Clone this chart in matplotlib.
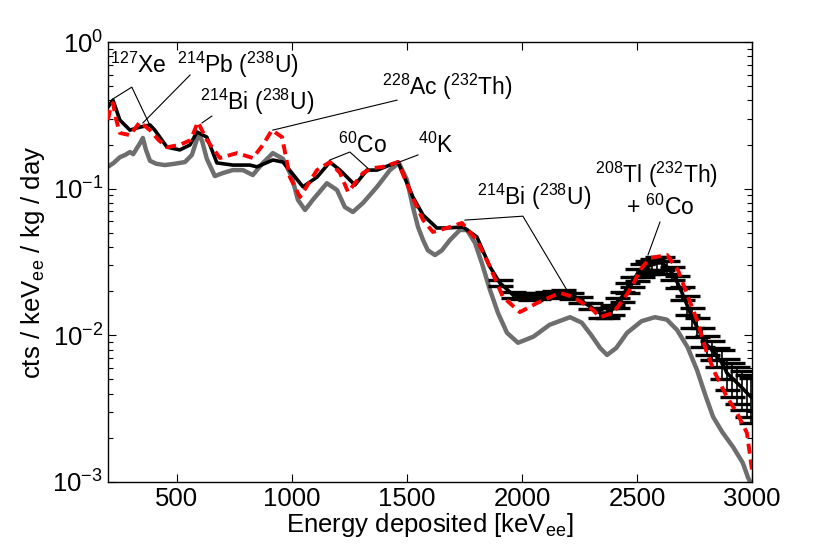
import numpy as np
import matplotlib
matplotlib.use('Agg')
import matplotlib.pyplot as plt

# measured spectrum (black, with error bars)
data_keV = [200, 222, 252, 296, 339, 383, 404, 457, 513, 557, 587, 630, 674, 743,
            817, 848, 917, 961, 1000, 1048, 1109, 1165, 1209, 1274, 1326, 1370,
            1426, 1461, 1526, 1570, 1630, 1674, 1744, 1804, 1861, 1904, 1961,
            2000, 2035, 2070, 2109, 2140, 2178, 2215, 2252, 2295, 2339, 2370,
            2391, 2413, 2435, 2457, 2478, 2500, 2522, 2543, 2565, 2587, 2609,
            2630, 2652, 2674, 2696, 2717, 2739, 2761, 2783, 2804, 2826, 2848,
            2870, 2891, 2913, 2935, 2957, 2978, 2996]
data_rate = [0.360, 0.402, 0.294, 0.251, 0.263, 0.272, 0.251, 0.192, 0.184, 0.199,
             0.244, 0.225, 0.150, 0.145, 0.145, 0.141, 0.157, 0.152, 0.128, 0.103,
             0.120, 0.152, 0.134, 0.106, 0.134, 0.134, 0.145, 0.152, 0.0878, 0.0662,
             0.0540, 0.0540, 0.0548, 0.0469, 0.0293, 0.0228, 0.0189, 0.0185, 0.0183,
             0.0186, 0.0189, 0.0192, 0.0195, 0.0185, 0.0174, 0.0158, 0.0142, 0.0142,
             0.0149, 0.0167, 0.0183, 0.0211, 0.0232, 0.0259, 0.0279, 0.0293, 0.0303,
             0.0312, 0.0312, 0.0293, 0.0267, 0.0232, 0.0195, 0.0162, 0.0133, 0.0114,
             0.00977, 0.00862, 0.00800, 0.00713, 0.00650, 0.00554, 0.00513, 0.00474,
             0.00439, 0.00405, 0.00380]
# relative size of the error bars
data_relerr = [0.02] * 33 + [0.05] * 13 + [0.08] * 7 + [0.10] * 10 + \
              [0.15] * 7 + [0.22, 0.24, 0.26, 0.28, 0.30, 0.32, 0.34]

# simulated background model (red dashed)
model_keV = [200, 212, 222, 235, 252, 296, 339, 383, 420, 457, 513, 560, 591, 630,
             687, 761, 830, 874, 913, 957, 991, 1035, 1109, 1165, 1209, 1244, 1309,
             1348, 1396, 1461, 1526, 1570, 1613, 1674, 1739, 1804, 1861, 1917, 1991,
             2065, 2165, 2222, 2309, 2339, 2396, 2439, 2478, 2513, 2557, 2631, 2678,
             2722, 2761, 2804, 2839, 2891, 2935, 2978, 3000]
model_rate = [0.294, 0.36, 0.384, 0.30, 0.240, 0.232, 0.285, 0.251, 0.215, 0.192,
              0.199, 0.215, 0.285, 0.215, 0.162, 0.175, 0.162, 0.199, 0.251, 0.225,
              0.120, 0.0878, 0.134, 0.152, 0.128, 0.095, 0.128, 0.138, 0.141, 0.152,
              0.0864, 0.0612, 0.0507, 0.0540, 0.0584, 0.0447, 0.0293, 0.0183, 0.0144,
              0.0166, 0.0195, 0.0183, 0.0149, 0.0133, 0.0142, 0.0174, 0.0214, 0.0279,
              0.0337, 0.0353, 0.0279, 0.0183, 0.0127, 0.00759, 0.00554, 0.00380,
              0.00296, 0.00216, 0.00121]

# second model component (grey)
grey_keV = [200, 225, 252, 275, 296, 310, 326, 340, 352, 365, 383, 410, 448, 490,
            535, 565, 582, 595, 610, 630, 665, 700, 743, 787, 830, 874, 917, 961, 1000,
            1026, 1057, 1091, 1152, 1196, 1230, 1265, 1309, 1370, 1426, 1465, 1500,
            1526, 1548, 1570, 1591, 1622, 1652, 1687, 1730, 1761, 1796, 1826, 1861,
            1896, 1935, 1983, 2050, 2120, 2209, 2260, 2300, 2340, 2370, 2410, 2457,
            2520, 2578, 2630, 2674, 2720, 2761, 2800, 2831, 2870, 2918, 2960, 2983, 3000]
grey_rate = [0.141, 0.150, 0.164, 0.170, 0.178, 0.172, 0.189, 0.205, 0.222, 0.185,
             0.155, 0.148, 0.145, 0.148, 0.152, 0.170, 0.205, 0.238, 0.210, 0.160, 0.122,
             0.128, 0.134, 0.134, 0.124, 0.150, 0.175, 0.160, 0.120, 0.084, 0.0716,
             0.084, 0.109, 0.098, 0.075, 0.0694, 0.080, 0.103, 0.134, 0.150, 0.115,
             0.075, 0.055, 0.0447, 0.038, 0.0353, 0.038, 0.0447, 0.0523, 0.0523,
             0.0427, 0.031, 0.0204, 0.0142, 0.0104, 0.0089, 0.0098, 0.0118, 0.0133,
             0.0122, 0.0101, 0.0082, 0.00735, 0.0082, 0.0104, 0.0125, 0.0133, 0.0128,
             0.0109, 0.0083, 0.0058, 0.0038, 0.00278, 0.0022, 0.00173, 0.00135,
             0.00107, 0.00095]

plt.rcParams['font.family'] = ['Liberation Sans', 'DejaVu Sans']
plt.rcParams['mathtext.fontset'] = 'custom'
plt.rcParams['mathtext.rm'] = 'Liberation Sans'
plt.rcParams['mathtext.it'] = 'Liberation Sans:italic'
plt.rcParams['mathtext.bf'] = 'Liberation Sans:bold'

fig = plt.figure(figsize=(8.3, 5.54), dpi=100)
ax = fig.add_axes([0.130, 0.130, 0.776, 0.794])

ax.plot(grey_keV, grey_rate, color='#6e6e6e', lw=3.2, zorder=2,
        solid_joinstyle='round')
x = np.array(data_keV)
y = np.array(data_rate)
yerr = y * np.array(data_relerr)
hi = x >= 1900  # error bars only visible where they are larger than the line
ax.errorbar(x[hi], y[hi], yerr=yerr[hi], fmt='none', ecolor='k', elinewidth=1.2,
            capsize=9, capthick=2.4, zorder=3)
ax.plot(x, y, color='k', lw=2.6, zorder=3)
ax.plot(model_keV, model_rate, color='#ff0000', lw=2.8, dashes=(2.6, 1.5), zorder=4)

ax.set_yscale('log')
ax.set_xlim(200, 3000)
ax.set_ylim(1e-3, 1)
ax.set_xticks([500, 1000, 1500, 2000, 2500, 3000])
ax.tick_params(which='both', direction='in', top=True, right=True, labelsize=18.5)
ax.tick_params(which='major', length=6, width=0.8)
ax.tick_params(which='minor', length=3.5, width=0.8)
for s in ax.spines.values():
    s.set_linewidth(1.0)

ax.set_xlabel(r'Energy deposited [keV$_{\mathrm{ee}}$]', fontsize=18.5, labelpad=0)
ax.set_ylabel(r'cts / keV$_{\mathrm{ee}}$ / kg / day', fontsize=18.5, labelpad=4)

# peak labels
fs = 16.5
lk = dict(color='k', lw=0.8, zorder=5)
ax.text(207, 0.615, r'$^{127}$Xe', fontsize=fs)
ax.plot([222, 304, 383], [0.41, 0.493, 0.27], **lk)
ax.text(500, 0.615, r'$^{214}$Pb ($^{238}$U)', fontsize=fs)
ax.plot([557, 352], [0.596, 0.281], **lk)
ax.text(600, 0.344, r'$^{214}$Bi ($^{238}$U)', fontsize=fs)
ax.plot([652, 609], [0.313, 0.281], **lk)
ax.text(1392, 0.435, r'$^{228}$Ac ($^{232}$Th)', fontsize=fs)
ax.plot([1457, 917], [0.402, 0.251], **lk)
ax.text(1200, 0.175, r'$^{60}$Co', fontsize=fs)
ax.plot([1165, 1252, 1330], [0.157, 0.178, 0.138], **lk)
ax.text(1548, 0.175, r'$^{40}$K', fontsize=fs)
ax.plot([1548, 1457], [0.170, 0.150], **lk)
ax.text(1804, 0.0774, r'$^{214}$Bi ($^{238}$U)', fontsize=fs)
ax.plot([1752, 2004, 2200], [0.0611, 0.065, 0.0198], **lk)
ax.text(2583, 0.109, r'$^{208}$Tl ($^{232}$Th)', fontsize=fs, ha='center')
ax.text(2600, 0.0662, r'+ $^{60}$Co', fontsize=fs, ha='center')
ax.plot([2600, 2548], [0.0592, 0.0354], **lk)

fig.savefig('out.png', dpi=100)
